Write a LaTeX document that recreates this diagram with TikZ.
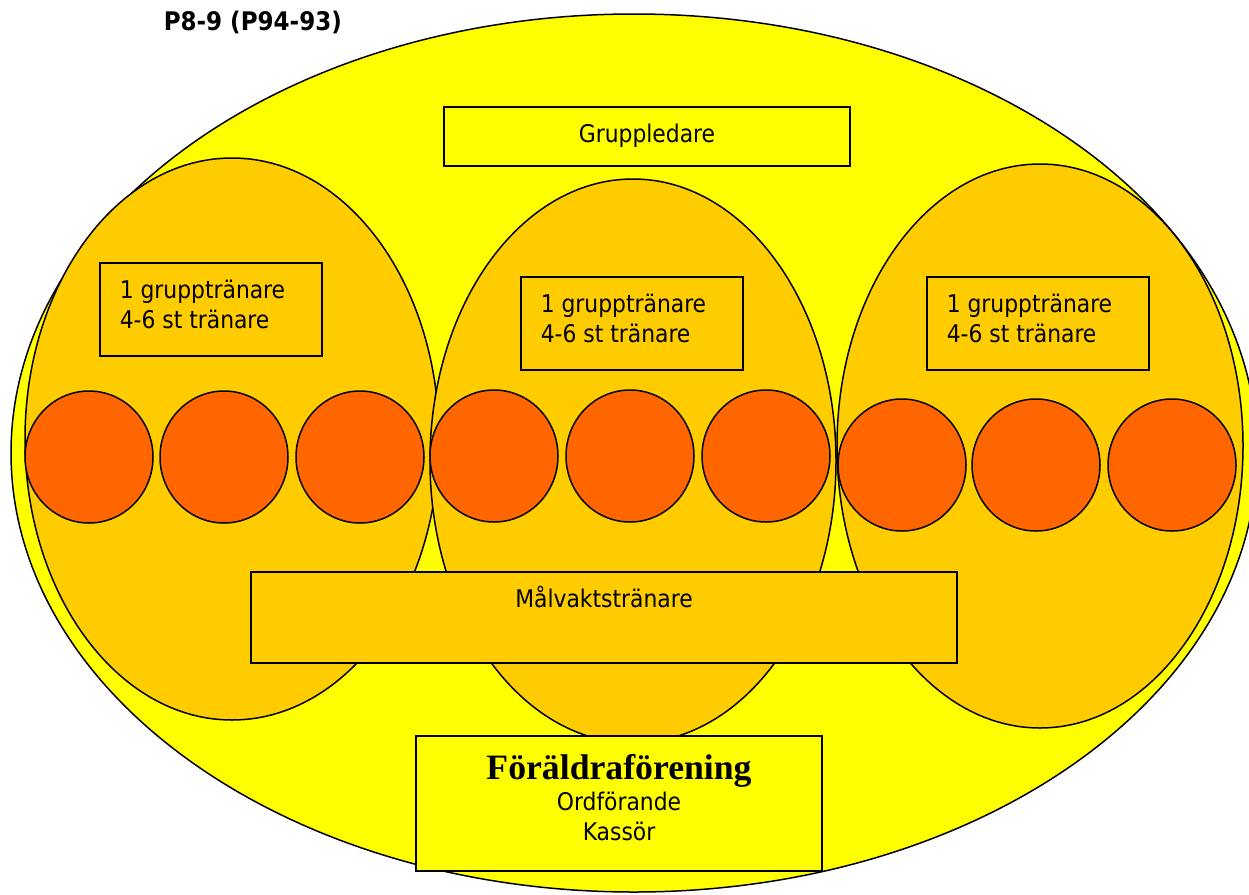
\documentclass[tikz,border=0pt]{standalone}
\usepackage{fontspec}
\setmainfont{DejaVu Sans Condensed}
\newfontfamily\titleserif{Liberation Serif}
\usepackage{tikz}
\usetikzlibrary{positioning,calc}

\definecolor{clubyellow}{HTML}{FFFF00}
\definecolor{groupgold}{HTML}{FFCC00}
\definecolor{playerorange}{HTML}{FF6600}

\begin{document}
\begin{tikzpicture}[x=1pt, y=-1pt, line width=1.5pt,
    boxtext/.style={font=\fontsize{24.3}{30}\selectfont, inner sep=0pt}]
    \useasboundingbox (0,0) rectangle (1249,894);
    \clip (0,0) rectangle (1249,894);

    % Title
    \node[boxtext, font=\fontsize{25.6}{30}\selectfont\bfseries, anchor=base west] (title) at (163,30) {P8-9 (P94-93)};

    % Club
    \draw[fill=clubyellow] (634,453) ellipse [x radius=623, y radius=439];

    % Group ovals
    \foreach \cx/\cy/\rx/\ry in {232/439/207/281, 633/461/203/282, 1040/446/203/282} {
        \draw[fill=groupgold] (\cx,\cy) ellipse [x radius=\rx, y radius=\ry];
    }

    % Players
    \foreach \cx/\cy in {89/457, 224/457, 360/457, 494/456, 630/456, 766/456, 902/465, 1036/465, 1172/465} {
        \draw[fill=playerorange] (\cx,\cy) ellipse [x radius=64, y radius=66];
    }

    % Group leader
    \draw[fill=clubyellow] (444,107) rectangle (850,166);
    \node[boxtext, anchor=base] (leader) at (647,142) {Gruppledare};

    % Trainers per group
    \foreach \x/\y/\name in {100/263/trainA, 521/277/trainB, 927/277/trainC} {
        \draw[fill=groupgold] (\x,\y) rectangle (\x+222,\y+93);
        \node[boxtext, anchor=base west] (\name) at (\x+19,\y+35)
            {\begin{tabular}[t]{@{}l@{}}1 grupptränare\\4-6 st tränare\end{tabular}};
    }

    % Goalkeeper trainer
    \draw[fill=groupgold] (251,572) rectangle (957,663);
    \node[boxtext, anchor=base] (keeper) at (604,607) {Målvaktstränare};

    % Parents
    \draw[fill=clubyellow] (416,736) rectangle (822,871);
    \node[boxtext, font=\fontsize{35.7}{40}\selectfont\titleserif\bfseries, anchor=base] (parents) at (619,779) {Föräldraförening};
    \node[boxtext, anchor=base] (chair) at (619,810) {Ordförande};
    \node[boxtext, anchor=base] (cashier) at (619,840) {Kassör};
\end{tikzpicture}
\end{document}
